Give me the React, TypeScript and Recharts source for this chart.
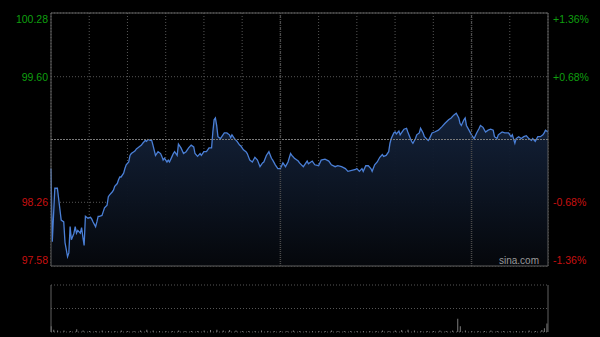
import {
  ComposedChart,
  Area,
  Line,
  XAxis,
  YAxis,
  CartesianGrid,
  ReferenceLine,
  ReferenceArea,
  BarChart,
  Bar,
} from 'recharts';

// previous close, the middle line of the price panel
const BASE = 98.93;

const priceTicks = [97.58, 98.26, 98.93, 99.6, 100.28];
const priceLabels = ['97.58', '98.26', '', '99.60', '100.28'];
const pctLabels = ['-1.36%', '-0.68%', '', '+0.68%', '+1.36%'];
const timeTicks = [0, 30, 60, 90, 120, 150, 180, 210, 240, 270, 300, 330, 360, 390];

// minutes since the open
const times = [
  0, 1, 3, 5, 8, 10, 11, 13, 14, 15, 16, 18, 19, 20, 21, 23, 24, 25, 26, 27,
  29, 31, 32, 33, 35, 36, 37, 38, 40, 41, 42, 44, 45, 46, 48, 49, 50, 52, 53, 54,
  55, 57, 58, 59, 61, 62, 63, 65, 66, 67, 68, 70, 71, 72, 74, 75, 76, 78, 79, 80,
  82, 83, 84, 86, 87, 88, 89, 91, 92, 93, 95, 96, 97, 99, 100, 102, 104, 106, 108, 110,
  112, 113, 115, 117, 118, 120, 122, 124, 126, 127, 128, 129, 130, 131, 133, 134, 136, 138, 140, 141,
  142, 144, 146, 148, 149, 151, 153, 154, 156, 158, 160, 162, 164, 166, 167, 169, 171, 173, 174, 176,
  178, 180, 182, 184, 186, 188, 189, 191, 194, 195, 198, 201, 202, 205, 207, 210, 212, 215, 218, 220,
  223, 225, 228, 231, 233, 236, 239, 240, 242, 244, 245, 247, 249, 251, 252, 254, 256, 258, 260, 261,
  263, 265, 266, 267, 269, 270, 271, 273, 274, 275, 277, 279, 280, 282, 283, 284, 286, 287, 289, 290,
  292, 293, 296, 297, 299, 301, 304, 307, 309, 312, 314, 316, 318, 320, 321, 322, 324, 325, 326, 328,
  330, 332, 334, 336, 337, 339, 341, 343, 345, 347, 348, 350, 351, 354, 356, 359, 361, 362, 364, 365,
  367, 369, 371, 373, 375, 377, 378, 380, 382, 384, 386, 387, 388, 390,
];

const prices = [
  98.62, 97.84, 98.41, 98.41, 98.07, 98.05, 97.83, 97.68, 97.72, 98.0,
  97.86, 97.93, 98.0, 97.93, 97.96, 97.93, 97.99, 97.89, 97.8, 98.11,
  98.09, 98.1, 98.08, 98.05, 98.0, 98.05, 98.11, 98.11, 98.12, 98.16,
  98.2, 98.23, 98.32, 98.34, 98.37, 98.39, 98.43, 98.46, 98.5, 98.53,
  98.53, 98.57, 98.62, 98.66, 98.69, 98.76, 98.78, 98.8, 98.81, 98.83,
  98.84, 98.86, 98.87, 98.89, 98.92, 98.91, 98.93, 98.92, 98.92, 98.87,
  98.76, 98.78, 98.8, 98.78, 98.75, 98.71, 98.73, 98.69, 98.71, 98.69,
  98.75, 98.78, 98.8, 98.76, 98.88, 98.84, 98.78, 98.8, 98.84, 98.87,
  98.85, 98.78, 98.75, 98.78, 98.76, 98.8, 98.8, 98.84, 98.84, 99.01,
  99.14, 99.16, 99.08, 98.96, 98.94, 98.96, 99.0, 99.0, 98.98, 98.95,
  98.98, 98.94, 98.91, 98.87, 98.86, 98.82, 98.8, 98.78, 98.71, 98.69,
  98.74, 98.71, 98.64, 98.68, 98.69, 98.76, 98.8, 98.73, 98.71, 98.66,
  98.62, 98.62, 98.68, 98.64, 98.69, 98.78, 98.76, 98.73, 98.7, 98.68,
  98.64, 98.7, 98.67, 98.7, 98.66, 98.65, 98.71, 98.72, 98.7, 98.66,
  98.64, 98.65, 98.64, 98.62, 98.59, 98.6, 98.61, 98.62, 98.59, 98.62,
  98.59, 98.65, 98.65, 98.62, 98.59, 98.66, 98.69, 98.74, 98.77, 98.75,
  98.76, 98.8, 98.89, 98.94, 99.0, 99.01, 98.99, 99.02, 98.98, 99.0,
  99.04, 99.05, 99.01, 98.94, 98.91, 98.89, 98.94, 98.98, 99.0, 99.05,
  99.0, 98.96, 98.92, 98.94, 99.0, 99.01, 99.03, 99.07, 99.1, 99.14,
  99.16, 99.19, 99.21, 99.16, 99.1, 99.08, 99.14, 99.16, 99.08, 99.03,
  98.98, 98.94, 99.0, 99.05, 99.08, 99.06, 99.01, 99.03, 99.04, 99.03,
  98.96, 98.94, 98.98, 99.01, 99.0, 99.0, 98.96, 98.98, 98.89, 98.94,
  98.96, 98.94, 98.96, 98.97, 98.94, 98.92, 98.94, 98.91, 98.96, 98.96,
  98.98, 99.0, 99.03, 99.01,
];

const volTimes = [
  0, 2, 5, 10, 15, 20, 25, 30, 35, 40, 45, 50, 55, 60, 65, 70, 75, 80, 85, 90,
  95, 100, 105, 110, 115, 120, 125, 130, 135, 140, 145, 150, 155, 160, 165, 170, 175, 180, 185, 190,
  195, 200, 205, 210, 215, 220, 225, 230, 235, 240, 245, 250, 255, 260, 265, 270, 275, 280, 285, 290,
  295, 300, 305, 310, 315, 319, 321, 325, 330, 335, 340, 345, 350, 355, 360, 365, 370, 375, 380, 385,
  387, 389,
];

const volValues = [
  12, 5, 3, 3, 2, 6, 3, 2, 2, 3, 2, 2, 3, 2, 2, 3, 5, 3, 2, 2,
  2, 3, 2, 2, 2, 3, 4, 5, 3, 4, 3, 2, 2, 2, 3, 2, 2, 2, 2, 3,
  2, 2, 2, 2, 2, 3, 2, 2, 2, 2, 2, 2, 2, 3, 2, 3, 4, 5, 3, 2,
  2, 2, 3, 2, 3, 28, 12, 3, 2, 2, 2, 3, 2, 2, 2, 2, 2, 3, 2, 4,
  8, 18,
];

const priceData = times.map((t, i) => ({ t, price: prices[i] }));
const volData = volTimes.map((t, i) => ({ t, vol: volValues[i] }));

const GREEN = '#0f9f0f';
const RED = '#c81010';
const FONT = "Arial, 'Liberation Sans', sans-serif";

function SideTick(props: any) {
  const { x, y, payload, labels, anchor } = props;
  const idx = priceTicks.indexOf(payload.value);
  const label = labels[idx];
  if (!label) return null;
  let dy = 0;
  if (idx === priceTicks.length - 1) dy = 6;
  if (idx === 0) dy = -6;
  return (
    <text
      x={x}
      y={y + dy}
      textAnchor={anchor}
      dominantBaseline="central"
      fontSize={10.5}
      fontFamily={FONT}
      fill={payload.value > BASE ? GREEN : RED}
    >
      {label}
    </text>
  );
}

export default function App() {
  return (
    <div style={{ position: 'fixed', left: 0, top: 0, width: 600, height: 337, background: '#000' }}>
      <ComposedChart width={600} height={270} data={priceData} margin={{ top: 13, right: 0, bottom: 4, left: 0 }}>
        <defs>
          <linearGradient id="priceFill" x1="0" y1="0" x2="0" y2="1">
            <stop offset="0%" stopColor="#14233c" stopOpacity={0.95} />
            <stop offset="100%" stopColor="#05070b" stopOpacity={1} />
          </linearGradient>
        </defs>
        <XAxis dataKey="t" type="number" domain={[0, 390]} ticks={timeTicks} hide />
        <YAxis
          domain={[97.58, 100.28]}
          ticks={priceTicks}
          width={51}
          axisLine={false}
          tickLine={false}
          tickSize={0}
          tickMargin={3}
          interval={0}
          tick={(p: any) => <SideTick {...p} labels={priceLabels} anchor="end" />}
        />
        <YAxis
          yAxisId="pct"
          orientation="right"
          domain={[97.58, 100.28]}
          ticks={priceTicks}
          width={52}
          axisLine={false}
          tickLine={false}
          tickSize={0}
          tickMargin={5}
          interval={0}
          tick={(p: any) => <SideTick {...p} labels={pctLabels} anchor="start" />}
        />
        <CartesianGrid stroke="#565656" strokeDasharray="1 2" />
        <Area
          dataKey="price"
          type="linear"
          stroke="#4a7fd6"
          strokeWidth={1.3}
          fill="url(#priceFill)"
          fillOpacity={1}
          dot={false}
          activeDot={false}
          isAnimationActive={false}
        />
        {/* invisible copy so the percent axis gets a series */}
        <Line
          yAxisId="pct"
          dataKey="price"
          stroke="none"
          dot={false}
          activeDot={false}
          isAnimationActive={false}
        />
        <ReferenceLine y={BASE} stroke="#7a7a7a" strokeDasharray="2 1" />
        <ReferenceLine x={180} stroke="#4a4a4a" strokeWidth={1.5} strokeDasharray="1 1" />
        <ReferenceLine x={330} stroke="#4a4a4a" strokeWidth={1.5} strokeDasharray="1 1" />
        <ReferenceArea x1={0} x2={390} y1={97.58} y2={100.28} fill="none" stroke="#606060" strokeWidth={1} />
      </ComposedChart>
      <div
        style={{
          position: 'absolute',
          left: 499,
          top: 255,
          fontSize: 10,
          lineHeight: '12px',
          fontFamily: FONT,
          color: '#9a9a9a',
        }}
      >
        sina.com
      </div>
      <div style={{ position: 'absolute', left: 0, top: 275 }}>
        <BarChart width={600} height={62} data={volData} margin={{ top: 10, right: 52, bottom: 5, left: 51 }}>
          <XAxis dataKey="t" type="number" domain={[0, 390]} hide />
          <YAxis domain={[0, 100]} ticks={[0, 50, 100]} hide />
          <CartesianGrid vertical={false} stroke="#565656" strokeDasharray="1 2" />
          <Bar dataKey="vol" fill="#7c7c7c" barSize={1} isAnimationActive={false} />
          <ReferenceLine x={0} stroke="#606060" />
          <ReferenceLine x={390} stroke="#606060" />
        </BarChart>
      </div>
    </div>
  );
}
